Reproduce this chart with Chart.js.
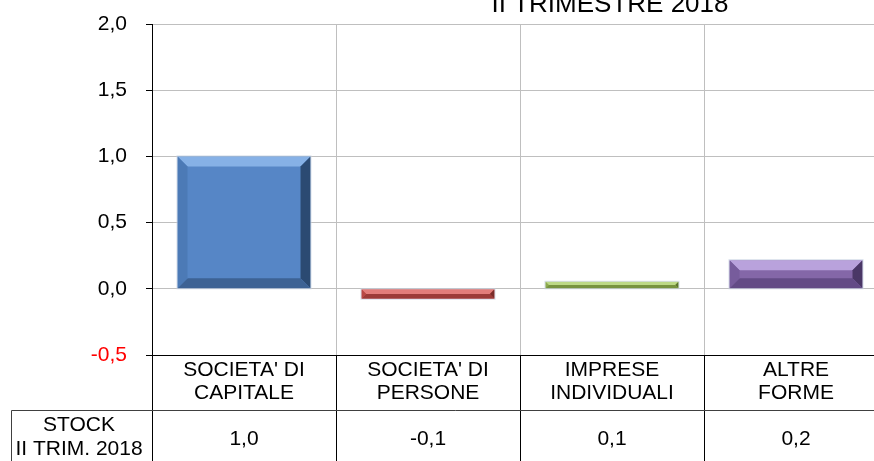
<!DOCTYPE html>
<html>
<head>
<meta charset="utf-8">
<script src="https://cdn.jsdelivr.net/npm/chart.js@4.4.1/dist/chart.umd.min.js"></script>
<style>
    html, body { margin: 0; padding: 0; overflow: hidden; background: #fff; }
    #wrap { width: 900px; height: 461px; }
</style>
</head>
<body>
<div id="wrap"><canvas id="stockChart" width="900" height="461"></canvas></div>
<script>
// Values
const categories = [
    ["SOCIETA' DI", "CAPITALE"],
    ["SOCIETA' DI", "PERSONE"],
    ["IMPRESE", "INDIVIDUALI"],
    ["ALTRE", "FORME"]
];
const stockValues = [1.0, -0.075, 0.053, 0.216];
const yTicks = [-0.5, 0, 0.5, 1.0, 1.5, 2.0];
const tableHeader = ["STOCK", "II TRIM. 2018"];
const chartTitle = "II TRIMESTRE 2018";

const FONT = "'Liberation Sans', Arial, sans-serif";
const fmt = v => v.toFixed(1).replace('.', ',');

// bar colours: face, top bevel, right bevel, bottom bevel, left bevel
const barColors = ['#5686c6', '#c9504d', '#9bbb59', '#8467a8'];
const barShades = [
    { light: '#86b1e6', dark: '#2b4a72', mid: '#3d6294', left: '#4c7ab6' },
    { light: '#e27d7a', dark: '#7a2c2a', mid: '#9c3b38', left: '#b84845' },
    { light: '#bcd986', dark: '#5d7530', mid: '#77933f', left: '#8daa50' },
    { light: '#b9a2dc', dark: '#4a3766', mid: '#634b86', left: '#775c9c' }
];

// draws the bevelled look of the bars on top of the library's bar elements
const bevelPlugin = {
    id: 'bevel',
    afterDatasetsDraw(chart) {
        const ctx = chart.ctx;
        chart.getDatasetMeta(0).data.forEach((bar, i) => {
            const p = bar.getProps(['x', 'y', 'base', 'width'], true);
            const l = p.x - p.width / 2, r = p.x + p.width / 2;
            const t = Math.min(p.y, p.base), b = Math.max(p.y, p.base);
            const s = Math.min(10, (b - t) / 2, p.width / 2);
            const c = barShades[i];
            const poly = (pts, col) => {
                ctx.beginPath();
                ctx.moveTo(pts[0][0], pts[0][1]);
                pts.slice(1).forEach(q => ctx.lineTo(q[0], q[1]));
                ctx.closePath();
                ctx.fillStyle = col;
                ctx.fill();
            };
            ctx.save();
            poly([[l, t], [r, t], [r - s, t + s], [l + s, t + s]], c.light);
            poly([[r, t], [r, b], [r - s, b - s], [r - s, t + s]], c.dark);
            poly([[l, b], [r, b], [r - s, b - s], [l + s, b - s]], c.mid);
            poly([[l, t], [l + s, t + s], [l + s, b - s], [l, b]], c.left);
            ctx.strokeStyle = 'rgba(200,210,225,0.7)';
            ctx.lineWidth = 1;
            ctx.strokeRect(l - 0.5, t - 0.5, r - l + 1, b - t + 1);
            ctx.restore();
        });
    }
};

// data table under the axis + title
const tablePlugin = {
    id: 'dataTable',
    afterDraw(chart) {
        const ctx = chart.ctx;
        const x = chart.scales.x;
        const bottom = chart.height;
        const step = x.width / categories.length;
        const line = (x1, y1, x2, y2) => {
            ctx.beginPath();
            ctx.moveTo(x1, y1);
            ctx.lineTo(x2, y2);
            ctx.stroke();
        };
        const rowTop = 410.5;
        ctx.save();
        ctx.lineWidth = 1;
        ctx.strokeStyle = '#000';
        for (let i = 0; i <= categories.length; i++) {
            const px = Math.round(x.left + i * step) + 0.5;
            line(px, x.top, px, bottom);
        }
        ctx.strokeStyle = '#404040';
        line(11.5, rowTop, chart.width, rowTop);
        line(11.5, rowTop, 11.5, bottom);

        ctx.fillStyle = '#000';
        ctx.font = '21px ' + FONT;
        ctx.textAlign = 'center';
        ctx.textBaseline = 'middle';
        stockValues.forEach((v, i) => ctx.fillText(fmt(v), x.getPixelForValue(i), 439));
        ctx.fillText(tableHeader[0], 79, 425);
        ctx.fillText(tableHeader[1], 79, 449.5);

        ctx.font = '26px ' + FONT;
        ctx.textBaseline = 'alphabetic';
        ctx.fillText(chartTitle, 610, 11.5);
        ctx.restore();
    }
};

new Chart(document.getElementById('stockChart'), {
    type: 'bar',
    data: {
        labels: categories,
        datasets: [{
            data: stockValues,
            backgroundColor: barColors,
            borderWidth: 0,
            categoryPercentage: 1,
            barPercentage: 0.723
        }]
    },
    options: {
        responsive: false,
        animation: false,
        devicePixelRatio: 1,
        layout: { padding: { top: 24, right: 12, left: 0, bottom: 0 } },
        plugins: {
            legend: { display: false },
            tooltip: { enabled: false },
            title: { display: false }
        },
        scales: {
            x: {
                grid: { color: '#bfbfbf', drawTicks: false, offset: true },
                border: { color: '#000' },
                ticks: {
                    color: '#000',
                    padding: 4,
                    maxRotation: 0,
                    autoSkip: false,
                    font: { family: FONT, size: 21, lineHeight: 1.1 }
                },
                afterFit(scale) { scale.height = 106; }
            },
            y: {
                min: yTicks[0],
                max: yTicks[yTicks.length - 1],
                afterBuildTicks(scale) { scale.ticks = yTicks.map(v => ({ value: v })); },
                grid: {
                    color: ctx => ctx.tick && ctx.tick.value === yTicks[0] ? '#000' : '#bfbfbf',
                    tickColor: '#000',
                    tickLength: 6
                },
                border: { color: '#000' },
                ticks: {
                    padding: 19,
                    color: ctx => ctx.tick.value < 0 ? '#ff0000' : '#000',
                    font: { family: FONT, size: 21 },
                    callback: v => fmt(v)
                },
                afterFit(scale) {
                    scale.width = 152;
                    // the tick padding is horizontal only here
                    scale.paddingTop = 12;
                    scale.paddingBottom = 12;
                }
            }
        }
    },
    plugins: [bevelPlugin, tablePlugin]
});
</script>
</body>
</html>
